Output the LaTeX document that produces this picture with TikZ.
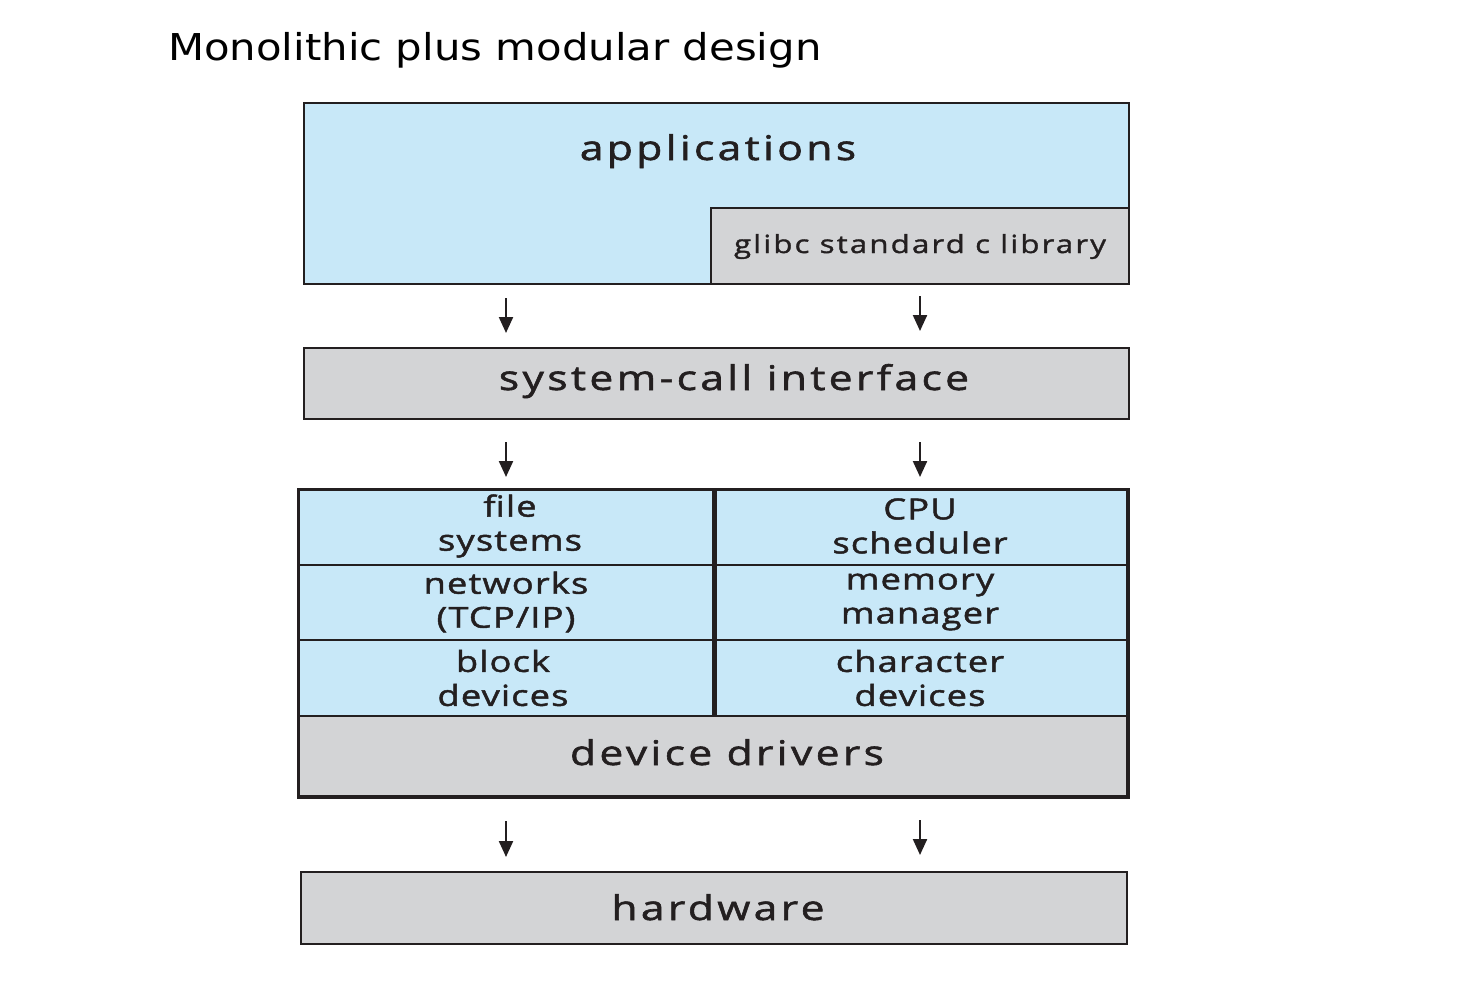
\documentclass[tikz,border=0pt]{standalone}
\usepackage{fontspec}
\usetikzlibrary{arrows.meta}
\newfontfamily\bigfont[LetterSpace=10, FakeStretch=1.25, FakeBold=1.7]{Open Sans}
\newfontfamily\midfont[LetterSpace=4, FakeStretch=1.25, FakeBold=1.6]{Open Sans}
\newfontfamily\smallfont[LetterSpace=8.5, FakeStretch=1.25, FakeBold=1.4]{Open Sans}
\newfontfamily\titlefont[FakeStretch=1.13]{DejaVu Sans}
\definecolor{lblue}{HTML}{C8E8F8}
\definecolor{lgray}{HTML}{D3D4D6}
\definecolor{ink}{HTML}{231F20}
\tikzset{
  box/.style={draw=ink, line width=2.5pt, rectangle, inner sep=0pt},
  bigtxt/.style={font=\bigfont\fontsize{34}{40}\selectfont, text=ink, inner sep=0pt},
  midtxt/.style={font=\midfont\fontsize{29}{34}\selectfont, text=ink, align=center, inner sep=0pt},
  smalltxt/.style={font=\smallfont\fontsize{25}{30}\selectfont, text=ink, inner sep=0pt},
  arr/.style={draw=ink, line width=2.2pt, -{Triangle[width=14pt,length=16pt]}}
}
\begin{document}
\begin{tikzpicture}[x=1pt,y=-1pt]
\useasboundingbox (0,0) rectangle (1482,996);
\node (title) [anchor=base west, inner sep=0pt, font=\titlefont\fontsize{37}{44}\selectfont] at (168,60) {Monolithic plus modular design};

% applications
\node (app) [box, fill=lblue, minimum width=825pt, minimum height=181pt] at (716.5,193.5) {};
\node (glibc) [box, fill=lgray, minimum width=418pt, minimum height=76pt] at (920,246) {};
\node (applbl) [bigtxt, anchor=base] at (718,160) {applications};
\node (glibclbl) [smalltxt, anchor=base] at (920,253) {glibc standard c library};

% system call
\node (sci) [box, fill=lgray, minimum width=825pt, minimum height=71pt] at (716.5,383.5) {};
\node (scilbl) [bigtxt, anchor=base] at (734,390) {system-call interface};

% kernel cells
\node (fs) [box, fill=lblue, minimum width=414pt, minimum height=75pt] at (506,527.5) {};
\node (cpu) [box, fill=lblue, minimum width=414pt, minimum height=75pt] at (920,527.5) {};
\node (net) [box, fill=lblue, minimum width=414pt, minimum height=75pt] at (506,602.5) {};
\node (mem) [box, fill=lblue, minimum width=414pt, minimum height=75pt] at (920,602.5) {};
\node (blk) [box, fill=lblue, minimum width=414pt, minimum height=76pt] at (506,678) {};
\node (chr) [box, fill=lblue, minimum width=414pt, minimum height=76pt] at (920,678) {};
\node (drv) [box, fill=lgray, minimum width=828pt, minimum height=80pt] at (713,756) {};
\draw[draw=ink, line width=4.5pt] (fs.north east) -- (blk.south east);
\draw[draw=ink, line width=2.5pt] (fs.north west) rectangle (drv.south east);

\node (fslbl) [midtxt] at (510,526) {file\\systems};
\node (cpulbl) [midtxt] at (920,526) {CPU\\scheduler};
\node (netlbl) [midtxt] at (506,602) {networks\\(TCP/IP)};
\node (memlbl) [midtxt] at (920,602) {memory\\manager};
\node (blklbl) [midtxt] at (503,678) {block\\devices};
\node (chrlbl) [midtxt] at (920,678) {character\\devices};
\node (drvlbl) [bigtxt, anchor=base] at (727,765) {device drivers};

% hardware
\node (hw) [box, fill=lgray, minimum width=826pt, minimum height=72pt] at (714,908) {};
\node (hwlbl) [bigtxt, anchor=base] at (718,920) {hardware};

% arrows
\coordinate (a1s) at (506,298); \coordinate (a1e) at (506,333);
\coordinate (a2s) at (920,296); \coordinate (a2e) at (920,331);
\coordinate (a3s) at (506,442); \coordinate (a3e) at (506,477);
\coordinate (a4s) at (920,442); \coordinate (a4e) at (920,477);
\coordinate (a5s) at (506,821); \coordinate (a5e) at (506,857);
\coordinate (a6s) at (920,820); \coordinate (a6e) at (920,855);
\draw[arr] (a1s) -- (a1e);
\draw[arr] (a2s) -- (a2e);
\draw[arr] (a3s) -- (a3e);
\draw[arr] (a4s) -- (a4e);
\draw[arr] (a5s) -- (a5e);
\draw[arr] (a6s) -- (a6e);
\end{tikzpicture}
\end{document}
